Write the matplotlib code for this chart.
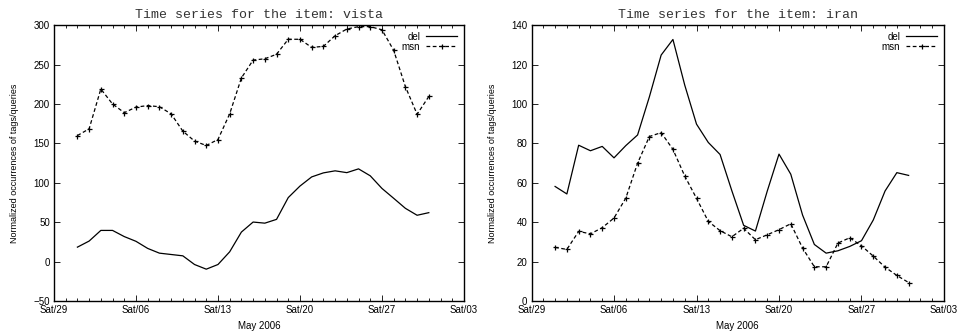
import datetime as dt
import matplotlib
matplotlib.use('Agg')
import matplotlib.pyplot as plt
import matplotlib.dates as mdates
import pandas as pd

plt.rcParams['font.family'] = 'Liberation Sans'
plt.rcParams['font.size'] = 7

days = pd.date_range('2006-05-01', '2006-05-31', freq='D')

vista_del = [18.6, 26.3, 39.8, 39.8, 32, 26, 17, 11, 9.3, 7.6, -3.4, -9.3, -3.4, 12.7, 37.7, 50.4,
             49, 53.8, 81.4, 96, 107.6, 112.7, 115.3, 113, 117.8, 109, 93, 80.5, 67.8, 59, 62.3]
vista_msn = [160, 168.5, 219, 200, 189, 196, 198, 196.5, 187.5, 165.6, 153, 147.4, 155, 187.5, 233, 255.6,
             257.3, 263, 282, 282, 271.7, 273, 286.5, 295, 298, 298, 294, 268, 222, 187, 209.5]
iran_del = [58.2, 54.4, 79.1, 76.3, 78.5, 72.7, 78.9, 84.3, 103.6, 124.8, 132.7, 109.6, 89.8, 80.5, 74.4, 56,
            38.5, 35.6, 55.8, 74.6, 64.4, 43.7, 28.8, 24.4, 25.6, 27.8, 30.7, 41.2, 55.9, 65.2, 63.8]
iran_msn = [27.3, 26.3, 35.4, 34.2, 37.3, 42.2, 52.3, 70, 83.5, 85.5, 77, 63.5, 52.2, 40.5, 35.8, 32.7,
            37, 31.2, 33.7, 36.3, 39.3, 27, 17.5, 17.5, 29.5, 32.2, 28.1, 22.9, 17.3, 13.1, 9.5]

panels = [('vista', vista_del, vista_msn, (-50, 300), 50),
          ('iran', iran_del, iran_msn, (0, 140), 20)]

fig = plt.figure(figsize=(9.57, 3.32), dpi=100)
rects = [[0.0564, 0.0925, 0.4284, 0.832], [0.5554, 0.0925, 0.431, 0.832]]

for rect, (name, d, m, ylim, ystep) in zip(rects, panels):
    ax = fig.add_axes(rect)
    ax.plot(days, d, '-', color='black', lw=0.9, label='del')
    ax.plot(days, m, '--', color='black', lw=0.9, dashes=(3, 2),
            marker='+', ms=3.6, mew=0.9, label='msn')
    ax.set_xlim(dt.datetime(2006, 4, 29), dt.datetime(2006, 6, 3))
    ax.set_ylim(*ylim)
    ax.set_yticks(range(ylim[0], ylim[1] + 1, ystep))
    ax.xaxis.set_major_locator(mdates.WeekdayLocator(byweekday=mdates.SA))
    ax.xaxis.set_minor_locator(mdates.DayLocator())
    ax.xaxis.set_major_formatter(mdates.DateFormatter('Sat/%d'))
    ax.tick_params(which='both', direction='in', top=True, right=True, labelsize=7, pad=3)
    ax.tick_params(which='major', length=4, width=0.6)
    ax.tick_params(which='minor', length=2, width=0.6)
    for s in ax.spines.values():
        s.set_linewidth(1.0)
    ax.set_title(f'Time series for the item: {name}', family='Liberation Mono', fontsize=9.5,
                 pad=5, color='#333333')
    ax.set_xlabel('May 2006', fontsize=7, labelpad=4)
    ax.set_ylabel('Normalized occurrences of tags/queries', fontsize=6.5, labelpad=10)
    ax.legend(loc='upper right', frameon=False, markerfirst=False, fontsize=7,
              handlelength=3.2, handletextpad=0.6, labelspacing=0.0, borderaxespad=0.3)

fig.savefig('out.png', dpi=100)
